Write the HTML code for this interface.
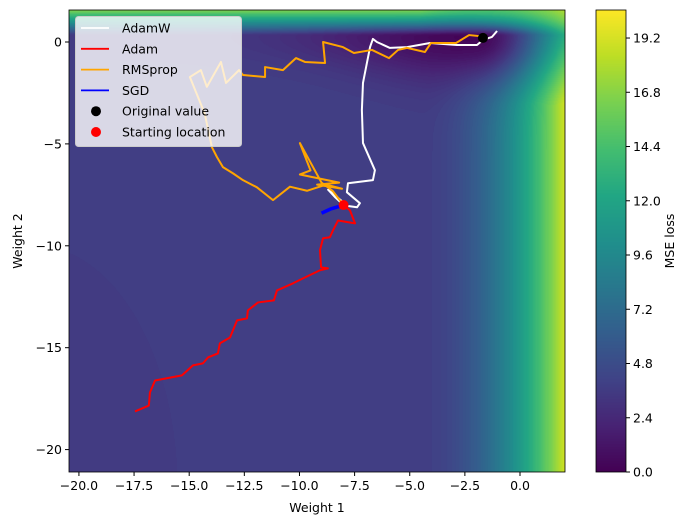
<!DOCTYPE html>
<html><head><meta charset="utf-8"><style>
body{margin:0;background:#fff;width:689px;height:525px;overflow:hidden;font-family:"Liberation Sans","DejaVu Sans",sans-serif}
#wrap{position:relative;width:689px;height:525px}
canvas{position:absolute}
svg{position:absolute;left:0;top:0}
text{font-family:"DejaVu Sans","Liberation Sans",sans-serif;font-size:12.5px;fill:#000}
</style></head><body>
<div id="wrap">
<canvas id="bg" width="496" height="462" style="left:69px;top:10px"></canvas>
<canvas id="cb" width="30" height="462" style="left:596px;top:10px"></canvas>
<svg id="svg" width="689" height="525"></svg>
</div>
<script>
const adamW = [[-8,-8],[-8.4,-7.6],[-8.7,-7.25],[-8.2,-7.7],[-7.8,-8.05],[-7.39,-8.11],[-7.26,-7.91],[-7.85,-7.37],[-7.8,-6.93],[-6.67,-6.78],[-6.58,-6.29],[-7.12,-4.96],[-7.17,-3.34],[-7.12,-2.01],[-6.8,-0.25],[-6.67,0.15],[-6.49,0],[-5.9,-0.29],[-5.12,-0.25],[-4.08,-0.05],[-2.86,-0.15],[-1.95,-0.15],[-1.68,0.1],[-1.27,0.25],[-1.04,0.54]];
const adam = [[-8,-8],[-7.71,-8.26],[-7.48,-8.9],[-8.25,-8.76],[-8.48,-9.24],[-8.62,-9.58],[-8.93,-9.63],[-9.07,-10.22],[-9.02,-11.06],[-8.71,-11.11],[-9.07,-11.2],[-9.84,-11.6],[-10.29,-11.84],[-11.02,-12.19],[-11.16,-12.68],[-11.88,-12.78],[-12.34,-13.17],[-12.38,-13.56],[-12.83,-13.66],[-13.15,-14.5],[-13.61,-14.79],[-13.7,-15.28],[-14.15,-15.48],[-14.38,-15.77],[-14.83,-15.87],[-15.33,-16.36],[-16.55,-16.61],[-16.78,-17.2],[-16.83,-17.84],[-17.46,-18.13]];
const rmsprop = [[-8,-8],[-8.5,-7.3],[-9.0,-6.9],[-9.98,-4.96],[-9.5,-6.3],[-9.98,-6.5],[-8.2,-6.9],[-9.2,-7.0],[-8.07,-7.2],[-8.8,-7.0],[-9.66,-7.3],[-10.43,-7.1],[-11.2,-7.76],[-11.93,-7.13],[-12.56,-6.78],[-13.02,-6.44],[-13.47,-6.14],[-13.74,-5.65],[-13.97,-5.16],[-14.3,-3.5],[-14.97,-1.72],[-14.47,-1.38],[-14.2,-2.2],[-13.56,-0.98],[-13.33,-2.01],[-12.74,-1.38],[-12.56,-1.62],[-11.56,-1.72],[-11.56,-1.23],[-10.75,-1.38],[-10.16,-0.79],[-9.75,-0.98],[-8.84,-1.03],[-8.93,0],[-8.03,-0.25],[-7.53,-0.54],[-6.71,-0.39],[-5.94,-0.79],[-5.53,-0.39],[-5.12,-0.29],[-4.31,-0.49],[-4.04,-0.05],[-2.9,-0.05],[-2.31,0.34],[-1.5,0.25]];
const sgd = [[-8,-8],[-8.3,-8.1],[-8.6,-8.2],[-8.8,-8.3],[-9.0,-8.4]];
const originalValue = [-1.68,0.2];
const startLocation = [-8,-8];
const xTicks = [-20,-17.5,-15,-12.5,-10,-7.5,-5,-2.5,0];
const yTicks = [0,-5,-10,-15,-20];
const cbTicks = [0,2.4,4.8,7.2,9.6,12,14.4,16.8,19.2];

const L=69,T=10,W=496,H=462,X0=-20.45,X1=2.04,Y0=-21.1,Y1=1.57,CMAX=20.44;
const sx=x=>L+(x-X0)/(X1-X0)*W, sy=y=>T+(Y1-y)/(Y1-Y0)*H;
const vir=[[68,1,84],[72,35,116],[64,67,135],[52,94,141],[41,120,142],[32,144,140],[34,167,132],[68,190,112],[121,209,81],[189,222,38],[253,231,37]];
function cmap(t){t=Math.max(0,Math.min(1,t))*10;const i=Math.min(9,Math.floor(t)),f=t-i,a=vir[i],b=vir[i+1];return[a[0]+(b[0]-a[0])*f,a[1]+(b[1]-a[1])*f,a[2]+(b[2]-a[2])*f];}
function field(x,y){
  let r=x>-4.5?0.36*(x+4.5)*(x+4.5):0;
  r*=1-0.4*Math.max(0,Math.min(1,(y+3)/4.5));
  let base=3.8+r;
  const dx=x+2, sc=dx>0?2.5:7;
  const A=0.06+0.89*Math.exp(-(dx/sc)*(dx/sc));
  const yc=0.25;
  const w=y>yc?0.35:(1.5+3*Math.exp(-(dx/6)*(dx/6)));
  base*=1-A*Math.exp(-((y-yc)*(y-yc))/w);
  if(y>0.35){const s=Math.max(0,Math.min(1,(x+4.5)/6.5));base+=10.5*(y-0.35)*(1-0.6*s);}
  if(((x+22)*(x+22))/42+((y+22)*(y+22))/144<1)base-=0.3;
  return Math.max(0,base);
}
(function(){
  const c=document.getElementById('bg').getContext('2d'),im=c.createImageData(W,H);
  for(let j=0;j<H;j++)for(let i=0;i<W;i++){
    const x=X0+(i+0.5)/W*(X1-X0),y=Y1-(j+0.5)/H*(Y1-Y0);
    const v=Math.round(field(x,y)/0.2)*0.2;const col=cmap(v/CMAX);const k=(j*W+i)*4;
    im.data[k]=col[0];im.data[k+1]=col[1];im.data[k+2]=col[2];im.data[k+3]=255;}
  c.putImageData(im,0,0);
  const cc=document.getElementById('cb').getContext('2d');
  for(let j=0;j<H;j++){const col=cmap(1-j/H);cc.fillStyle=`rgb(${col[0]|0},${col[1]|0},${col[2]|0})`;cc.fillRect(0,j,30,1);}
})();
const svg=document.getElementById('svg'),NS='http://www.w3.org/2000/svg';
function mk(tag,attrs,parent){const e=document.createElementNS(NS,tag);for(const k in attrs)e.setAttribute(k,attrs[k]);(parent||svg).appendChild(e);return e;}
function fmt(v,d){return (v<0?'\u2212':'')+Math.abs(v).toFixed(d);}
function path(data,color,width,name){
  const e=mk('polyline',{points:data.map(p=>sx(p[0])+','+sy(p[1])).join(' '),fill:'none',stroke:color,'stroke-width':width,'stroke-linejoin':'round'});
  
  
}
path(adamW,'#ffffff',2,'adamw-path');
path(adam,'#ff0000',2,'adam-path');
path(rmsprop,'#ffa500',2,'rmsprop-path');
path(sgd,'#0000ff',3.5,'sgd-path');
let dot=mk('circle',{cx:sx(originalValue[0]),cy:sy(originalValue[1]),r:5,fill:'#000'});


dot=mk('circle',{cx:sx(startLocation[0]),cy:sy(startLocation[1]),r:5,fill:'#ff0000'});


let fr=mk('rect',{x:L,y:T,width:W,height:H,fill:'none',stroke:'#000','stroke-width':0.8});


xTicks.forEach(v=>{const x=sx(v);mk('line',{x1:x,x2:x,y1:T+H,y2:T+H+4,stroke:'#000'});
  const t=mk('text',{x:x,y:T+H+18,'text-anchor':'middle'});t.textContent=fmt(v,1);
  
  });
yTicks.forEach(v=>{const y=sy(v);mk('line',{x1:L-4,x2:L,y1:y,y2:y,stroke:'#000'});
  const t=mk('text',{x:L-7,y:y+4.5,'text-anchor':'end'});t.textContent=fmt(v,0);
  
  });
const cy=v=>T+H-v/CMAX*H;
mk('rect',{x:596,y:T,width:30,height:H,fill:'none',stroke:'#000','stroke-width':0.8});
cbTicks.forEach(v=>{const y=cy(v);mk('line',{x1:626,x2:630,y1:y,y2:y,stroke:'#000'});
  const t=mk('text',{x:633,y:y+4.5});t.textContent=v.toFixed(1);
  
  });
let t=mk('text',{x:317,y:512,'text-anchor':'middle'});t.textContent='Weight 1';

t=mk('text',{x:22,y:241,'text-anchor':'middle',transform:'rotate(-90 22 241)'});t.textContent='Weight 2';

t=mk('text',{x:674,y:241,'text-anchor':'middle',transform:'rotate(-90 674 241)'});t.textContent='MSE loss';

const lg=mk('g',{});
mk('rect',{x:75.5,y:16.5,width:166,height:130,rx:3,fill:'rgba(255,255,255,0.8)',stroke:'#ccc'},lg);
const items=[['AdamW','#ffffff','line'],['Adam','#ff0000','line'],['RMSprop','#ffa500','line'],['SGD','#0000ff','line'],['Original value','#000','dot'],['Starting location','#ff0000','dot']];
items.forEach((it,i)=>{const y=28+i*20.8;
  if(it[2]=='line')mk('line',{x1:81,x2:109,y1:y,y2:y,stroke:it[1],'stroke-width':1.8},lg);
  else mk('circle',{cx:96,cy:y,r:5,fill:it[1]},lg);
  const tx=mk('text',{x:122,y:y+4.5},lg);tx.textContent=it[0];
  });
</script>
</body></html>
